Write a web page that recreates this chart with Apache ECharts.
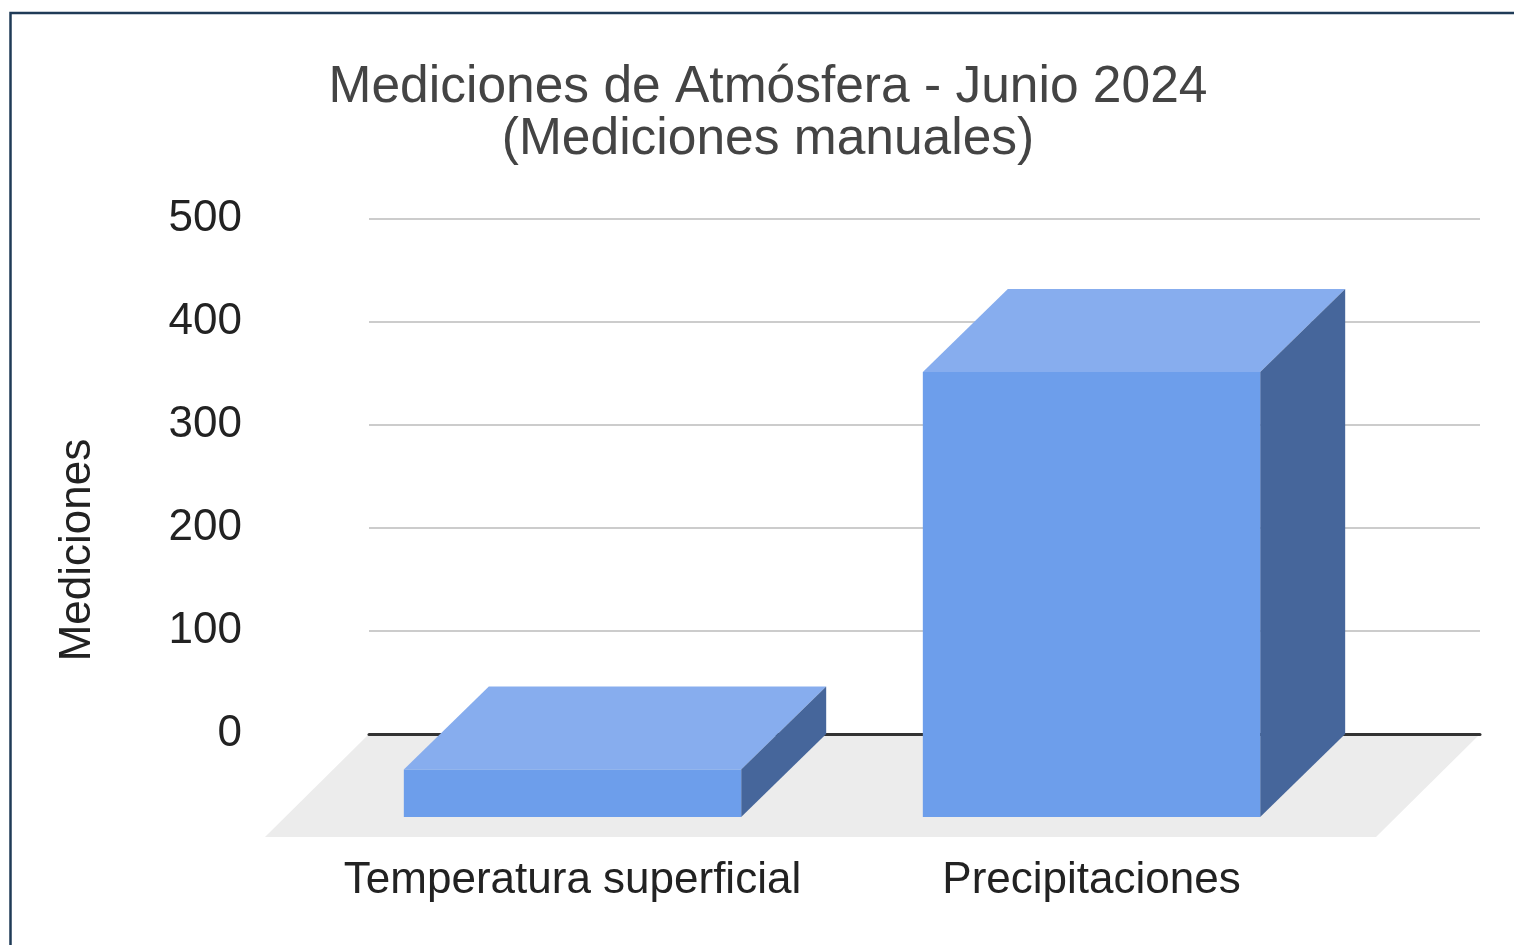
<!DOCTYPE html>
<html>
<head>
<meta charset="utf-8">
<script src="https://cdn.jsdelivr.net/npm/echarts@6/dist/echarts.min.js"></script>
<style>
  html, body { margin: 0; padding: 0; background: #fff; }
  #chart { width: 1514px; height: 945px; }
</style>
</head>
<body>
<div id="chart"></div>
<script>
const categories = ['Temperatura superficial', 'Precipitaciones'];
const values = [46, 432];
const titleText = 'Mediciones de Atmósfera - Junio 2024\n(Mediciones manuales)';
const yAxisName = 'Mediciones';

const FONT = '"Liberation Sans", Arial, sans-serif';
const DEPTH_X = 85, DEPTH_Y = 83;
const COLORS = { front: '#6d9eeb', top: '#87adee', side: '#46669b' };

const chart = echarts.init(document.getElementById('chart'), null, { renderer: 'canvas' });

const option = {
  animation: false,
  title: {
    text: titleText,
    left: 768,
    top: 62,
    padding: 0,
    textAlign: 'center',
    textStyle: { fontFamily: FONT, fontSize: 51.5, lineHeight: 52, fontWeight: 'normal', color: '#444444' }
  },
  grid: [
    { left: 369, right: 34, top: 219, bottom: 211 },
    { left: 313, right: 163, top: 302, bottom: 128 }
  ],
  xAxis: [
    {
      gridIndex: 0, type: 'category', data: categories,
      axisLine: { show: true, lineStyle: { color: '#333333', width: 3 } },
      axisTick: { show: false }, axisLabel: { show: false }, splitLine: { show: false }
    },
    {
      gridIndex: 1, type: 'category', data: categories,
      axisLine: { show: false }, axisTick: { show: false },
      axisLabel: { interval: 0, fontFamily: FONT, fontSize: 44, lineHeight: 44, color: '#222222', margin: 42 },
      splitLine: { show: false }
    }
  ],
  yAxis: [
    {
      gridIndex: 0, type: 'value', min: 0, max: 500, interval: 100,
      axisLine: { show: false }, axisTick: { show: false },
      axisLabel: { fontFamily: FONT, fontSize: 44, color: '#222222', margin: 127 },
      splitLine: { lineStyle: { color: '#cccccc', width: 2 } }
    },
    {
      gridIndex: 1, type: 'value', min: 0, max: 500, interval: 100, show: false,
      splitLine: { show: false }
    }
  ],
  graphic: [
    {
      type: 'polygon', z: -1, silent: true,
      shape: { points: [[369, 734], [1480, 734], [1376, 837], [265, 837]] },
      style: { fill: '#ececec' }
    },
    {
      type: 'text', x: 78, y: 550, rotation: Math.PI / 2, silent: true,
      style: { text: yAxisName, x: 0, y: 0, font: '44px ' + FONT, fill: '#222222', textAlign: 'center', textVerticalAlign: 'middle' }
    },
    {
      type: 'rect', silent: true,
      shape: { x: 10.5, y: 13, width: 1600, height: 1000 },
      style: { fill: 'none', stroke: '#1f3b57', lineWidth: 2.5 }
    }
  ],
  series: [
    {
      type: 'custom',
      xAxisIndex: 1, yAxisIndex: 1,
      data: categories.map((c, i) => [i, values[i]]),
      renderItem: function (params, api) {
        const i = api.value(0), v = api.value(1);
        const base = api.coord([i, 0]);
        const topP = api.coord([i, v]);
        const w = api.size([1, 0])[0] * 0.65;
        const x0 = base[0] - w / 2, x1 = base[0] + w / 2;
        const yb = base[1], yt = topP[1];
        return {
          type: 'group',
          children: [
            { type: 'polygon', shape: { points: [[x0, yt], [x0 + DEPTH_X, yt - DEPTH_Y], [x1 + DEPTH_X, yt - DEPTH_Y], [x1, yt]] }, style: { fill: COLORS.top } },
            { type: 'polygon', shape: { points: [[x1, yt], [x1 + DEPTH_X, yt - DEPTH_Y], [x1 + DEPTH_X, yb - DEPTH_Y], [x1, yb]] }, style: { fill: COLORS.side } },
            { type: 'rect', shape: { x: x0, y: yt, width: w, height: yb - yt }, style: { fill: COLORS.front } }
          ]
        };
      }
    }
  ]
};
chart.setOption(option);
</script>
</body>
</html>
